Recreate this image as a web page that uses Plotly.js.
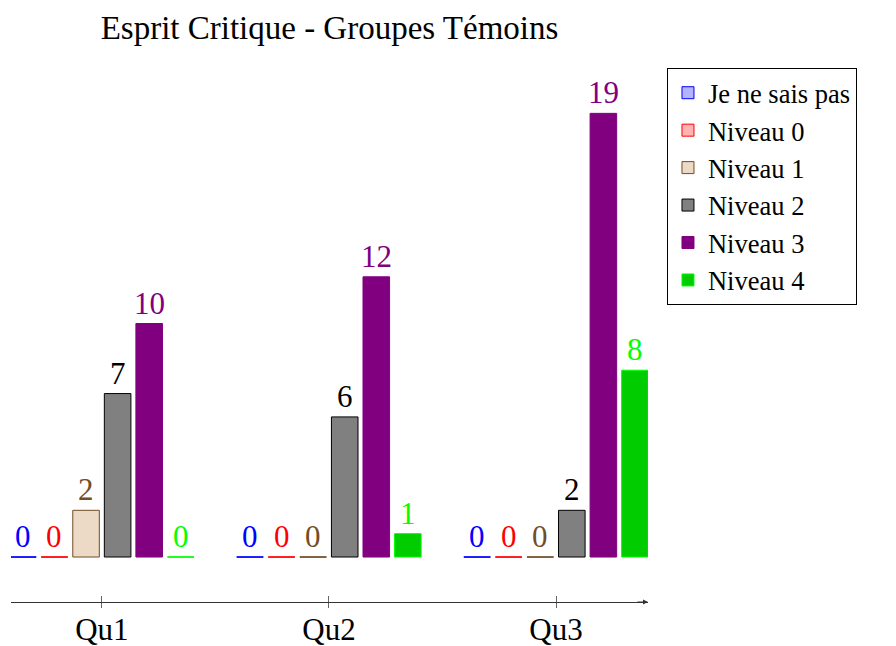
<!DOCTYPE html>
<html><head><meta charset="utf-8">
<script src="https://cdn.plot.ly/plotly-3.0.1.min.js"></script>
<style>body{margin:0;background:#fff}</style>
</head><body>
<div id="chart" style="width:896px;height:646px"></div>
<script>
const categories = ['Qu1', 'Qu2', 'Qu3'];
const seriesNames = ['Je ne sais pas', 'Niveau 0', 'Niveau 1', 'Niveau 2', 'Niveau 3', 'Niveau 4'];
const jeNeSaisPas = [0, 0, 0];
const niveau0 = [0, 0, 0];
const niveau1 = [2, 0, 0];
const niveau2 = [7, 6, 2];
const niveau3 = [10, 12, 19];
const niveau4 = [0, 1, 8];
const seriesValues = [jeNeSaisPas, niveau0, niveau1, niveau2, niveau3, niveau4];

const fillColors = ['#b3b3ff', '#ffb3b3', '#ecd9c6', '#808080', '#800080', '#00cc00'];
const lineColors = ['#0000ff', '#ff0000', '#734d26', '#000000', '#800080', '#00ff00'];
const textColors = ['#0000ff', '#ff0000', '#734d26', '#000000', '#800080', '#00ff00'];

const FONT = '"Liberation Serif", "DejaVu Serif", serif';
const FS = 31;
const slot = 0.139, barW = 0.117;
const groupIdx = categories.map((c, i) => i);
const nS = seriesNames.length;

const traces = [];
const shapes = [];
const annotations = [];
seriesValues.forEach((vals, k) => {
  const off = (k - (nS - 1) / 2) * slot;
  const xs = groupIdx.map(i => i + off);
  traces.push({
    type: 'bar', name: seriesNames[k], x: xs, y: vals, width: barW,
    marker: {color: fillColors[k], line: {color: lineColors[k], width: 1}},
    hoverinfo: 'name+y', cliponaxis: false
  });
  vals.forEach((v, i) => {
    if (v === 0) {
      shapes.push({type: 'line', xref: 'x', yref: 'y', x0: xs[i] - barW / 2, x1: xs[i] + barW / 2,
        y0: 0, y1: 0, line: {color: lineColors[k], width: 1}});
    }
    annotations.push({x: xs[i], y: v, xref: 'x', yref: 'y', text: String(v), showarrow: false,
      yanchor: 'bottom', yshift: 1, font: {family: FONT, size: FS, color: textColors[k]}});
  });
});

annotations.push({xref: 'paper', yref: 'paper', x: 1, y: 0, ax: -12, ay: 0, axref: 'pixel', ayref: 'pixel',
  text: '', showarrow: true, arrowhead: 2, arrowsize: 1, arrowwidth: 1, arrowcolor: '#333'});

const layout = {
  width: 896, height: 646,
  margin: {l: 11, r: 248, t: 90, b: 44, pad: 0},
  paper_bgcolor: '#fff', plot_bgcolor: '#fff',
  font: {family: FONT, size: FS, color: '#000'},
  title: {text: 'Esprit Critique - Groupes Témoins', font: {family: FONT, size: 33, color: '#000'},
    x: 0.5, xref: 'paper', y: 0.958, yref: 'container', yanchor: 'middle'},
  barmode: 'overlay',
  showlegend: true,
  legend: {x: 1.0298, y: 1.043, xanchor: 'left', yanchor: 'top', bgcolor: '#fff',
    bordercolor: '#000', borderwidth: 1, font: {family: FONT, size: 26.5, color: '#000'},
    itemwidth: 30, tracegroupgap: 0, entrywidth: 225, entrywidthmode: 'pixels'},
  xaxis: {range: [-0.4, 2.405], tickvals: groupIdx, ticktext: categories, showline: true,
    linecolor: '#333', linewidth: 1, ticks: 'outside', ticklen: 5, tickcolor: '#666',
    ticklabelstandoff: -5,
    showgrid: false, zeroline: false, tickfont: {family: FONT, size: FS}, fixedrange: true},
  xaxis2: {range: [-0.4, 2.405], overlaying: 'x', anchor: 'y', side: 'bottom', tickvals: groupIdx,
    ticks: 'inside', ticklen: 6, tickcolor: '#666', showticklabels: false, showgrid: false,
    zeroline: false, showline: false},
  yaxis: {range: [-1.926, 20], visible: false, showgrid: false, zeroline: false, fixedrange: true},
  shapes: shapes,
  annotations: annotations
};
traces.push({type: 'scatter', x: [0], y: [-5], xaxis: 'x2', yaxis: 'y', showlegend: false, hoverinfo: 'skip', mode: 'markers'});
Plotly.newPlot('chart', traces, layout, {displayModeBar: false, staticPlot: true});
</script>
</body></html>
